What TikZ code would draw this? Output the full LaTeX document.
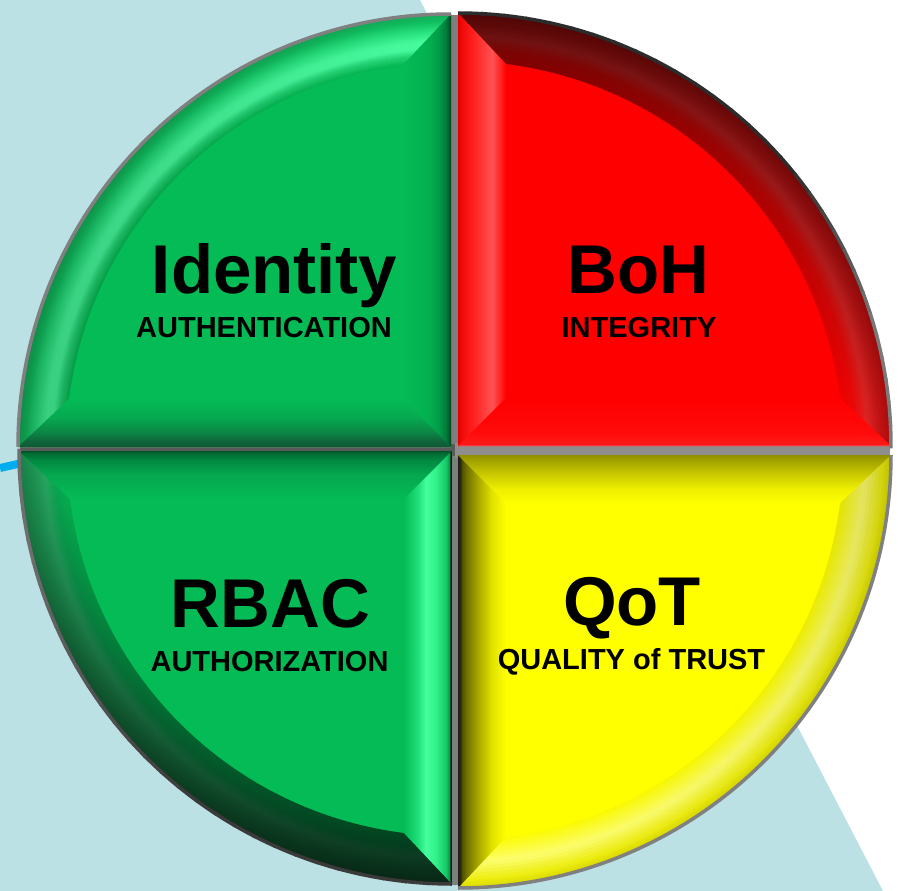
\documentclass[tikz,border=0pt]{standalone}
\usepackage{fontspec}
\setmainfont{Liberation Sans}
\usetikzlibrary{fadings}

% ---------- colours ----------
\definecolor{bgblue}{HTML}{BCE1E5}
\definecolor{cyanline}{HTML}{00AEEF}
\definecolor{gapgray}{HTML}{7E7E7E}
\definecolor{gapdark}{HTML}{5A5A5A}
\definecolor{gaplight}{HTML}{8E8E8E}
\definecolor{bordergray}{HTML}{808080}
\definecolor{trdark}{HTML}{2C2C2C}
\definecolor{trlight}{HTML}{7A7A7A}
\definecolor{bldark}{HTML}{3A3A3A}
\definecolor{bllight}{HTML}{6E6E6E}
% TL green
\definecolor{tlbase}{HTML}{05BB55}
\definecolor{tlA}{HTML}{25DA78}
\definecolor{tlB}{HTML}{48FFA0}
\definecolor{tlC}{HTML}{28E680}
\definecolor{tlD}{HTML}{10C060}
\definecolor{tlE}{HTML}{1AA85A}
\definecolor{tlR1}{HTML}{03B050}
\definecolor{tlR2}{HTML}{029A48}
\definecolor{tlR3}{HTML}{017A3A}
\definecolor{tlR4}{HTML}{005A2C}
\definecolor{tlR5}{HTML}{003A1C}
\definecolor{tlB0}{HTML}{8FD0A8}
\definecolor{tlB1}{HTML}{0F5C34}
\definecolor{tlB2}{HTML}{10613A}
\definecolor{tlB3}{HTML}{0C8444}
\definecolor{tlB4}{HTML}{06A850}
% TR red
\definecolor{trbase}{HTML}{FF0000}
\definecolor{trA}{HTML}{F80808}
\definecolor{trB}{HTML}{E62626}
\definecolor{trC}{HTML}{C81414}
\definecolor{trD}{HTML}{B00C0C}
\definecolor{trL0}{HTML}{E00000}
\definecolor{trL1}{HTML}{F00808}
\definecolor{trL2}{HTML}{FF1E1E}
\definecolor{trL3}{HTML}{FF5252}
\definecolor{trL4}{HTML}{FF3030}
\definecolor{trB0}{HTML}{FF7070}
\definecolor{trB1}{HTML}{FF1A1A}
\definecolor{trB2}{HTML}{FF0A0A}
% BL green
\definecolor{blbase}{HTML}{05BB55}
\definecolor{blA}{HTML}{0AAE55}
\definecolor{blB}{HTML}{2AAC66}
\definecolor{blC}{HTML}{1E9A55}
\definecolor{blD}{HTML}{1A8A4C}
\definecolor{blE}{HTML}{2A7A50}
\definecolor{blT0}{HTML}{005028}
\definecolor{blT1}{HTML}{006A32}
\definecolor{blT2}{HTML}{028A42}
\definecolor{blT3}{HTML}{05A84F}
\definecolor{blR1}{HTML}{20E07A}
\definecolor{blR2}{HTML}{45FF9C}
\definecolor{blR3}{HTML}{32F08A}
\definecolor{blR4}{HTML}{16C868}
\definecolor{blR5}{HTML}{0A9A4A}
\definecolor{blR6}{HTML}{1A1A1A}
\definecolor{blR7}{HTML}{141414}
% BR yellow
\definecolor{brbase}{HTML}{FFFF00}
\definecolor{brA}{HTML}{FFFF30}
\definecolor{brB}{HTML}{FFFF70}
\definecolor{brC}{HTML}{EEEE10}
\definecolor{brD}{HTML}{D8D800}
\definecolor{brL0}{HTML}{1E1E1E}
\definecolor{brL1}{HTML}{2A2A10}
\definecolor{brL2}{HTML}{4E4E00}
\definecolor{brL3}{HTML}{6E6E00}
\definecolor{brL4}{HTML}{A8A800}
\definecolor{brL5}{HTML}{E2E200}
\definecolor{brT0}{HTML}{909000}
\definecolor{brT1}{HTML}{A0A000}
\definecolor{brT2}{HTML}{CACA00}
\definecolor{brT3}{HTML}{EEEE00}

% straight bevel bands (path bbox maps to 25bp..75bp)
\pgfdeclarehorizontalshading{tlright}{100bp}{color(0bp)=(tlbase); color(25bp)=(tlbase); color(51bp)=(tlR1); color(62.5bp)=(tlR2); color(69.8bp)=(tlR3); color(72.9bp)=(tlR4); color(75bp)=(tlR5); color(100bp)=(tlR5)}
\pgfdeclareverticalshading{tlbottom}{100bp}{color(0bp)=(tlB0); color(25bp)=(tlB0); color(26bp)=(tlB1); color(30bp)=(tlB2); color(40bp)=(tlB3); color(55bp)=(tlB4); color(75bp)=(tlbase); color(100bp)=(tlbase)}
\pgfdeclarehorizontalshading{trleft}{100bp}{color(0bp)=(trL0); color(25bp)=(trL0); color(28bp)=(trL1); color(40bp)=(trL2); color(60.4bp)=(trL3); color(67bp)=(trL4); color(75bp)=(trbase); color(100bp)=(trbase)}
\pgfdeclareverticalshading{trbottom}{100bp}{color(0bp)=(trB0); color(25bp)=(trB0); color(26.5bp)=(trB1); color(40bp)=(trB2); color(75bp)=(trbase); color(100bp)=(trbase)}
\pgfdeclareverticalshading{bltop}{100bp}{color(0bp)=(blbase); color(25bp)=(blbase); color(50bp)=(blT3); color(65bp)=(blT2); color(73bp)=(blT1); color(75bp)=(blT0); color(100bp)=(blT0)}
\pgfdeclarehorizontalshading{blright}{100bp}{color(0bp)=(blbase); color(25bp)=(blbase); color(39.6bp)=(blR1); color(47.9bp)=(blR2); color(58.3bp)=(blR3); color(68.75bp)=(blR4); color(72bp)=(blR5); color(73.5bp)=(blR6); color(75bp)=(blR7); color(100bp)=(blR7)}
\pgfdeclarehorizontalshading{brleft}{100bp}{color(0bp)=(brL0); color(25bp)=(brL0); color(27.5bp)=(brL1); color(29bp)=(brL2); color(33.3bp)=(brL3); color(45.8bp)=(brL4); color(60.4bp)=(brL5); color(75bp)=(brbase); color(100bp)=(brbase)}
\pgfdeclareverticalshading{brtop}{100bp}{color(0bp)=(brbase); color(25bp)=(brbase); color(40bp)=(brT3); color(55bp)=(brT2); color(70bp)=(brT1); color(75bp)=(brT0); color(100bp)=(brT0)}

\tikzfading[name=fadeL, left color=transparent!0, right color=transparent!100]
\tikzfading[name=fadeT, top color=transparent!0, middle color=transparent!70, bottom color=transparent!100]
\tikzfading[name=fadeB, bottom color=transparent!0, middle color=transparent!85, top color=transparent!100]

% concentric strokes for the curved bevel: #1 start angle, #2 end angle,
% #3 list of  inner radius/outer radius/inner colour/outer colour
\newcommand\myarcband[3]{%
  \foreach \ra/\rb/\ca/\cb in {#3} {%
    \foreach \i in {0,...,4} {%
      \pgfmathsetmacro\rr{\ra+(\rb-\ra)*(\i+0.5)/5}%
      \pgfmathtruncatemacro\pp{100*(\i+0.5)/5}%
      \pgfmathsetmacro\ww{(\rb-\ra)/5+0.8}%
      \draw[line width=\ww pt, color=\cb!\pp!\ca] (#1:\rr) arc[start angle=#1,end angle=#2,radius=\rr];
    }%
  }%
}

\tikzset{
  rim/.style={line width=3.5pt},
  bigtxt/.style={font=\bfseries\fontsize{69}{80}\selectfont, anchor=base, inner sep=0pt, text=black},
  smalltxt/.style={font=\bfseries\fontsize{29}{34}\selectfont, anchor=base, inner sep=0pt, text=black},
}

\begin{document}
\begin{tikzpicture}[x=1pt,y=-1pt]
\useasboundingbox (0,0) rectangle (898,891);
\fill[white] (0,0) rectangle (898,891);
\fill[bgblue] (0,0) -- (420,0) -- (883,891) -- (0,891) -- cycle;
\coordinate (cl1) at (0,468);
\coordinate (cl2) at (40,459);
\draw[cyanline, line width=8pt] (cl1) -- (cl2);

% gaps between the quarters
\begin{scope}
  \clip (455,450) circle[radius=435];
  \fill[gapgray] (449,0) rectangle (460,891);
  \fill[gapdark] (0,444) rectangle (455,456);
  \fill[gaplight] (455,443) rectangle (898,458);
\end{scope}

% ---------- top-left : green ----------
\begin{scope}[shift={(451,447)}]
  \fill[tlbase] (0,0) -- (180:433) arc[start angle=180,end angle=270,radius=433] -- cycle;
  \begin{scope}
    \clip (180:433) arc[start angle=180,end angle=270,radius=433] -- (262.84:385) arc[start angle=262.84,end angle=187.16,radius=385] -- cycle;
    \myarcband{180}{270}{385/393/tlbase/tlA, 393/399/tlA/tlB, 399/406/tlB/tlB, 406/416/tlB/tlC, 416/426/tlC/tlD, 426/434/tlD/tlE}
    \fill[black, fill opacity=0.2, path fading=fadeL] (-433,-433) rectangle (0,0);
  \end{scope}
  \begin{scope}
    \clip (0,-433) -- (0,0) -- (-48,-48) -- (-48,-382) -- cycle;
    \shade[shading=tlright] (-48,-433) rectangle (0,0);
  \end{scope}
  \begin{scope}
    \clip (-433,0) -- (0,0) -- (-48,-48) -- (-382,-48) -- cycle;
    \shade[shading=tlbottom] (-433,-48) rectangle (0,0);
  \end{scope}
  \draw[rim, bordergray] (180:433) arc[start angle=180,end angle=270,radius=433];
\end{scope}

% ---------- top-right : red ----------
\begin{scope}[shift={(458,446)}]
  \fill[trbase] (0,0) -- (270:433) arc[start angle=270,end angle=360,radius=433] -- cycle;
  \begin{scope}
    \clip (270:433) arc[start angle=270,end angle=360,radius=433] -- (352.84:385) arc[start angle=352.84,end angle=277.16,radius=385] -- cycle;
    \myarcband{270}{360}{385/398/trbase/trA, 398/410/trA/trB, 410/422/trB/trC, 422/434/trC/trD}
    \fill[black, fill opacity=0.55, path fading=fadeT] (0,-433) rectangle (433,0);
  \end{scope}
  \begin{scope}
    \clip (0,-433) -- (0,0) -- (48,-48) -- (48,-382) -- cycle;
    \shade[shading=trleft] (0,-433) rectangle (48,0);
  \end{scope}
  \begin{scope}
    \clip (433,0) -- (0,0) -- (48,-48) -- (382,-48) -- cycle;
    \shade[shading=trbottom] (0,-48) rectangle (433,0);
  \end{scope}
  \foreach \a in {270,273,...,357} {
    \pgfmathsetmacro\b{\a+3.3}
    \pgfmathtruncatemacro\p{min(100,max(0,(\a-318)*4))}
    \draw[rim, color=trlight!\p!trdark] (\a:433) arc[start angle=\a,end angle=\b,radius=433];
  }
\end{scope}

% ---------- bottom-left : green ----------
\begin{scope}[shift={(452,451)}]
  \fill[blbase] (0,0) -- (90:433) arc[start angle=90,end angle=180,radius=433] -- cycle;
  \begin{scope}
    \clip (90:433) arc[start angle=90,end angle=180,radius=433] -- (172.84:385) arc[start angle=172.84,end angle=97.16,radius=385] -- cycle;
    \myarcband{90}{180}{385/398/blbase/blA, 398/408/blA/blB, 408/418/blB/blC, 418/428/blC/blD, 428/434/blD/blE}
    \fill[black, fill opacity=0.7, path fading=fadeB] (-433,0) rectangle (0,433);
  \end{scope}
  \begin{scope}
    \clip (-433,0) -- (0,0) -- (-48,48) -- (-382,48) -- cycle;
    \shade[shading=bltop] (-433,0) rectangle (0,48);
  \end{scope}
  \begin{scope}
    \clip (0,433) -- (0,0) -- (-48,48) -- (-48,382) -- cycle;
    \shade[shading=blright] (-48,0) rectangle (0,433);
  \end{scope}
  \foreach \a in {90,93,...,177} {
    \pgfmathsetmacro\b{\a+3.3}
    \pgfmathtruncatemacro\p{min(100,max(0,(\a-125)*2.5))}
    \draw[rim, color=bllight!\p!bldark] (\a:433) arc[start angle=\a,end angle=\b,radius=433];
  }
\end{scope}

% ---------- bottom-right : yellow ----------
\begin{scope}[shift={(458,455)}]
  \fill[brbase] (0,0) -- (0:433) arc[start angle=0,end angle=90,radius=433] -- cycle;
  \begin{scope}
    \clip (0:433) arc[start angle=0,end angle=90,radius=433] -- (82.84:385) arc[start angle=82.84,end angle=7.16,radius=385] -- cycle;
    \myarcband{0}{90}{385/395/brbase/brA, 395/408/brA/brB, 408/425/brB/brC, 425/434/brC/brD}
    \fill[black, fill opacity=0.12, path fading=fadeT] (0,0) rectangle (433,433);
  \end{scope}
  \begin{scope}
    \clip (0,433) -- (0,0) -- (48,48) -- (48,382) -- cycle;
    \shade[shading=brleft] (0,0) rectangle (48,433);
  \end{scope}
  \begin{scope}
    \clip (433,0) -- (0,0) -- (48,48) -- (382,48) -- cycle;
    \shade[shading=brtop] (0,0) rectangle (433,48);
  \end{scope}
  \draw[rim, bordergray] (0:433) arc[start angle=0,end angle=90,radius=433];
\end{scope}

% ---------- texts ----------
\node[bigtxt] (identity) at (274.5,293) {Identity};
\node[smalltxt] (authn) at (264,337) {AUTHENTICATION};
\node[bigtxt] (boh) at (638.5,293) {BoH};
\node[smalltxt] (integ) at (639,337) {INTEGRITY};
\node[bigtxt] (rbac) at (270.5,627) {RBAC};
\node[smalltxt] (authz) at (269.5,671) {AUTHORIZATION};
\node[bigtxt] (qot) at (632,625) {QoT};
\node[smalltxt] (quality) at (631.5,669) {QUALITY of TRUST};
\end{tikzpicture}
\end{document}
